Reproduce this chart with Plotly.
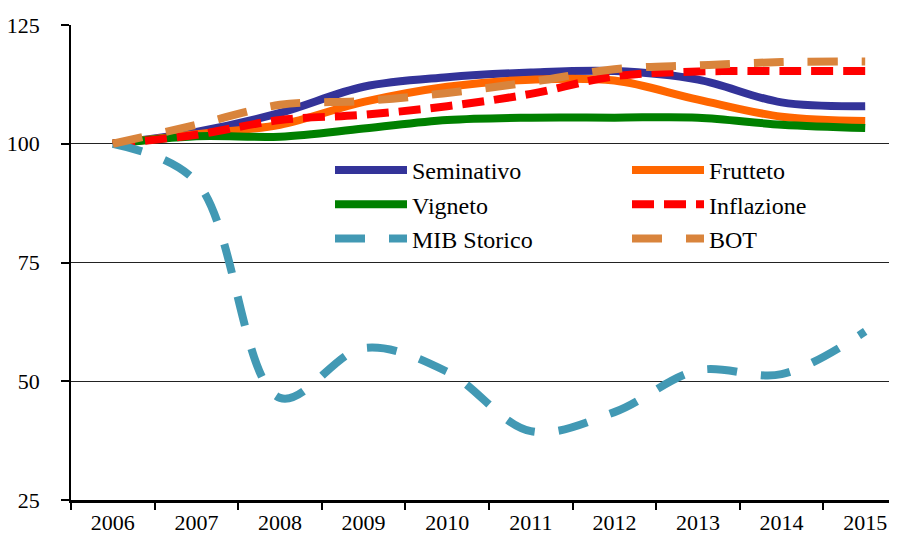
import plotly.graph_objects as go

years = ["2006", "2007", "2008", "2009", "2010", "2011", "2012", "2013", "2014", "2015"]
seminativo = [100, 102.5, 106.5, 112.0, 114.0, 115.0, 115.3, 113.5, 108.7, 107.9]
frutteto = [100, 102.0, 104.0, 108.8, 112.0, 113.5, 113.3, 109.3, 105.7, 104.8]
vigneto = [100, 101.6, 101.5, 103.2, 105.0, 105.5, 105.5, 105.5, 104.0, 103.3]
inflazione = [100, 101.9, 105.0, 106.1, 107.9, 110.5, 114.2, 115.2, 115.3, 115.3]
mib_storico = [100, 92.0, 46.5, 57.0, 52.0, 39.5, 43.5, 52.3, 51.5, 60.5]
bot = [100, 104.0, 108.2, 109.0, 110.7, 113.0, 115.7, 116.5, 117.2, 117.3]
y_ticks = [25, 50, 75, 100, 125]

FONT = "Liberation Serif"

series = [
    ("Seminativo", seminativo, "#333399", "solid", 210),
    ("Frutteto", frutteto, "#FF6600", "solid", 110),
    ("Vigneto", vigneto, "#008000", "solid", 210),
    ("Inflazione", inflazione, "#FF0000", "22px,10px", 110),
    ("MIB Storico", mib_storico, "#4299B4", "30px,24px", 210),
    ("BOT", bot, "#D9843C", "30px,24px", 110),
]

# the page body adds an 8px margin around the figure
OFF = 8
W, H = 897 - OFF, 537 - OFF
L, T, B = 71 - OFF, 25 - OFF, 37
PW = W - L
PH = H - T - B

fig = go.Figure()
for name, vals, color, dash, lw in series:
    fig.add_trace(go.Scatter(
        x=years, y=vals, name=name, mode="lines",
        line=dict(color=color, width=8, dash=dash, shape="spline", smoothing=1.0),
        legendwidth=lw,
    ))

fig.update_layout(
    width=W, height=H,
    margin=dict(l=L, r=0, t=T, b=B, pad=0),
    paper_bgcolor="white", plot_bgcolor="white",
    font=dict(family=FONT, size=22, color="black"),
    showlegend=True,
    legend=dict(
        orientation="h",
        x=(330 - 71) / PW, xanchor="left",
        y=(500 - 148) / PH, yanchor="top",
        itemwidth=72,
        entrywidthmode="pixels",
        bgcolor="rgba(0,0,0,0)",
        font=dict(family=FONT, size=24, color="black"),
        tracegroupgap=0,
    ),
    xaxis=dict(
        type="category",
        range=[-0.5, -0.5 + PW / 83.6],
        tickson="boundaries",
        ticks="outside", ticklen=7, tickwidth=1.5, tickcolor="black",
        showgrid=False,
        showline=True, linecolor="black", linewidth=2.5,
        tickfont=dict(family=FONT, size=22, color="black"),
        ticklabelstandoff=1,
        zeroline=False,
        automargin=False,
        fixedrange=True,
    ),
    yaxis=dict(
        range=[25, 125],
        tickvals=y_ticks,
        ticks="outside", ticklen=8, tickwidth=1.5, tickcolor="black",
        showgrid=True, gridcolor="#222222", gridwidth=1.2,
        showline=True, linecolor="black", linewidth=1.5,
        tickfont=dict(family=FONT, size=22, color="black"),
        ticklabelstandoff=17,
        zeroline=False,
        automargin=False,
        fixedrange=True,
    ),
)

fig.write_html("out.html")
